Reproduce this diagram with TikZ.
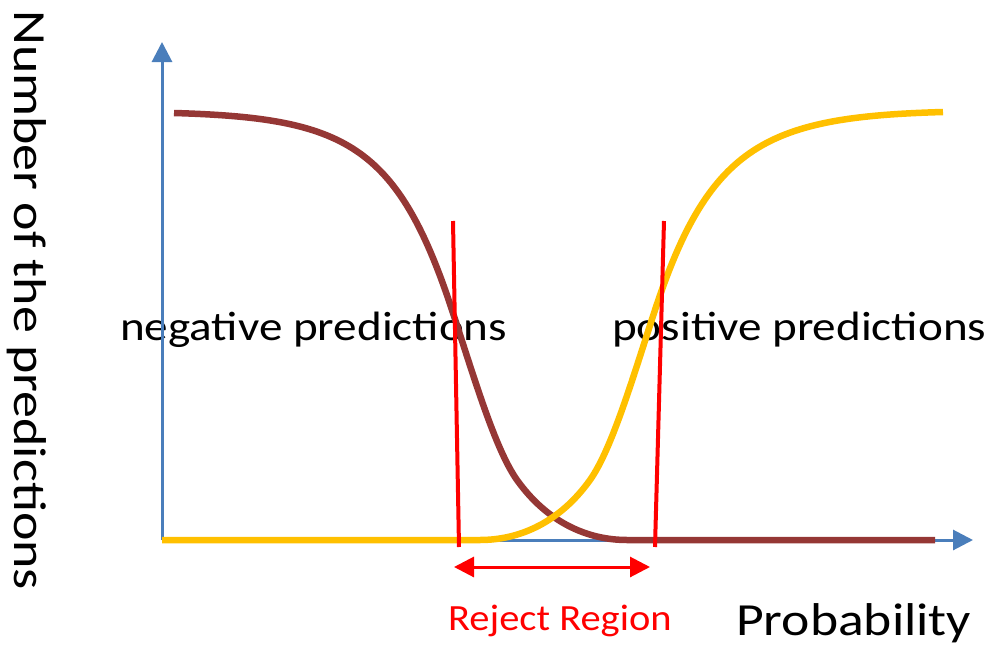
\documentclass[tikz,border=0pt]{standalone}
\usepackage{fontspec}
\setmainfont{Carlito}
\usetikzlibrary{arrows.meta}
\definecolor{axisblue}{HTML}{4A7EBB}
\definecolor{negbrown}{HTML}{953735}
\definecolor{posyellow}{HTML}{FFC000}
\definecolor{rejred}{HTML}{FF0000}
% horizontally widened text
\newcommand{\widetext}[2]{\scalebox{#1}[1]{#2}}

\begin{document}
\begin{tikzpicture}[x=1pt,y=-1pt,
  axisline/.style={draw=axisblue,line width=3pt,-{Triangle[length=20pt,width=20pt]}},
  curve/.style={line width=6.5pt,line join=round},
  cutline/.style={draw=rejred,line width=4pt},
  rangearrow/.style={draw=rejred,line width=3pt,{Triangle[length=20pt,width=20pt]}-{Triangle[length=20pt,width=20pt]}},
  lbl/.style={inner sep=0pt,anchor=base west,font=\fontsize{41}{49}\selectfont}]
\useasboundingbox (0,0) rectangle (989,648);

% texts
\node[lbl] (neg) at (120,340) {\widetext{1.15}{negative predictions}};
\node[lbl] (pos) at (612,340) {\widetext{1.15}{positive predictions}};
\node[lbl,font=\fontsize{46}{55}\selectfont] (xlab) at (736,635) {\widetext{1.166}{Probability}};
\node[lbl,font=\fontsize{37}{44}\selectfont,text=rejred] (rej) at (448,630) {\widetext{1.094}{Reject Region}};
\node[lbl,rotate=-90,font=\fontsize{46}{55}\selectfont] (ylab) at (15,10) {\widetext{1.173}{Number of the predictions}};

% axes
\coordinate (o) at (162,540);
\coordinate (ytip) at (162,42);
\coordinate (xtip) at (973,540);
\draw[axisline] (o) -- (ytip);
\draw[axisline] (o) -- (xtip);

% negative class curve
\draw[curve,negbrown] (174,113) .. controls (344,118) and (397,143) .. (452,310)
  .. controls (474,377) and (495,449) .. (517,480)
  .. controls (547,522) and (587,540) .. (627,540) -- (935,540);

% positive class curve
\draw[curve,posyellow] (162,540) -- (480,540)
  .. controls (520,540) and (560,522) .. (590,480)
  .. controls (612,449) and (633,377) .. (655,310)
  .. controls (710,143) and (768,117) .. (943,112);

% thresholds
\coordinate (t1a) at (453,221);
\coordinate (t1b) at (459,547);
\coordinate (t2a) at (664,221);
\coordinate (t2b) at (655,547);
\draw[cutline] (t1a) -- (t1b);
\draw[cutline] (t2a) -- (t2b);

\coordinate (r1) at (454,567);
\coordinate (r2) at (650,567);
\draw[rangearrow] (r1) -- (r2);
\end{tikzpicture}
\end{document}
